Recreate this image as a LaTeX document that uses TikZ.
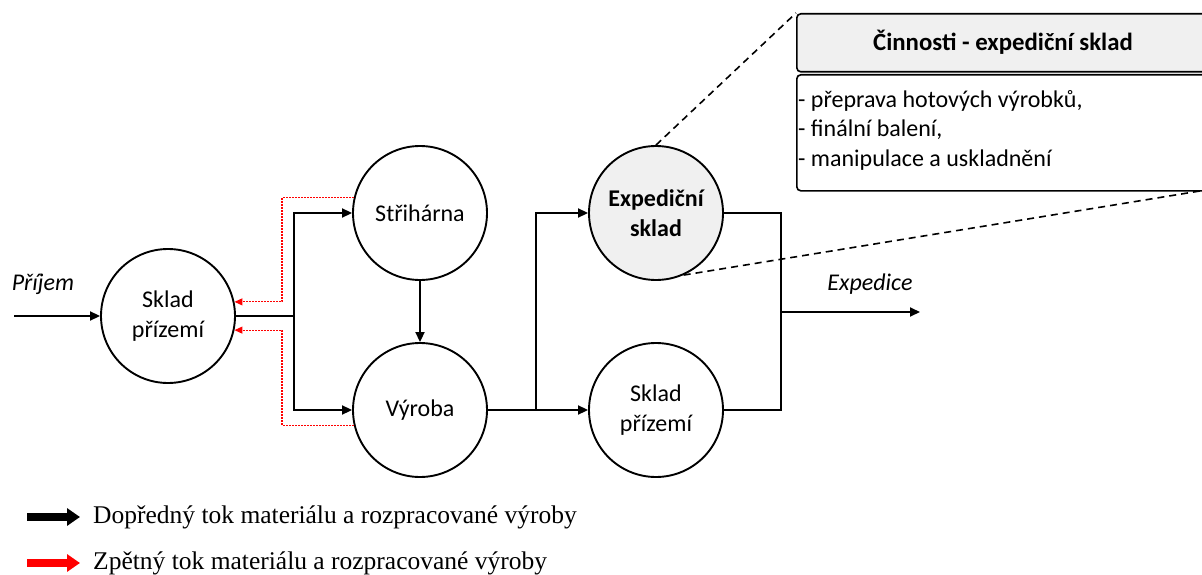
\documentclass[tikz,border=0pt]{standalone}
\usepackage{fontspec}
\setmainfont{Carlito}
\newfontfamily\legendfont{Liberation Serif}
\usetikzlibrary{arrows.meta,calc}

\begin{document}
\begin{tikzpicture}[x=1pt,y=-1pt,
  station/.style={circle, draw, line width=1.9pt, minimum size=134pt, inner sep=0pt,
                  align=center, font=\fontsize{24}{30}\selectfont},
  link/.style={line width=1.9pt},
  flow/.style={link, -{Triangle[length=10pt,width=9pt]}},
  back/.style={red, line width=1.1pt, dash pattern=on 2pt off 1pt,
               -{Triangle[length=8pt,width=7pt]}},
  zoomline/.style={line width=1.6pt, dash pattern=on 7pt off 5pt},
  flowlabel/.style={font=\fontsize{24}{30}\selectfont\itshape},
  panel/.style={draw, line width=1.6pt, rounded corners=4pt, anchor=north west, inner sep=0pt},
  legendtext/.style={anchor=west, inner sep=0pt, font=\legendfont\fontsize{25.5}{30}\selectfont},
]
\useasboundingbox (0,0) rectangle (1202,575);
\clip (0,0) rectangle (1202,575);

% stations
\node[station] (sklad) at (168,316) {Sklad\\přízemí};
\node[station] (stri)  at (420,213) {Střihárna};
\node[station] (vyr)   at (420,410) {Výroba};
\node[station, fill=black!6, font=\fontsize{24}{30}\selectfont\bfseries] (exp) at (656,213) {Expediční\\sklad};
\node[station] (sklad2) at (656,410) {Sklad\\přízemí};

% routing helpers
\coordinate (in)   at (14,316);
\coordinate (jx)   at (294,316);
\coordinate (rx)   at (282,316);
\coordinate (kx)   at (536,410);
\coordinate (mx)   at (781,312);
\coordinate (out)  at (920,312);

% detail panel
\draw[zoomline] (exp.north) -- (796,13);
\draw[zoomline] (exp.-66) -- (1206,190);
\node[panel, fill=black!6, minimum width=410pt, minimum height=58pt] (hdr) at (796,13) {};
\node[font=\fontsize{24.8}{30}\selectfont\bfseries] (hdrtext) at (1003,42) {Činnosti - expediční sklad};
\node[panel, fill=white, minimum width=410pt, minimum height=116pt] (body) at (796,74) {};
\node[anchor=west, align=left, inner sep=0pt, font=\fontsize{24}{29.5}\selectfont] (bodytext) at (798,130)
  {- přeprava hotových výrobků,\\- finální balení,\\- manipulace a uskladnění};

% forward flow
\draw[flow] (in) -- (sklad.west);
\node[flowlabel] (prijem) at (43,284) {Příjem};
\draw[flow] (sklad.east) -| (jx |- stri.west) -- (stri.west);
\draw[flow] (sklad.east) -| (jx |- vyr.west) -- (vyr.west);
\draw[flow] (stri.south) -- (vyr.north);
\draw[flow] (vyr.east) -| (kx |- exp.west) -- (exp.west);
\draw[flow] (vyr.east) -- (sklad2.west);
\draw[link] (exp.east) -| (mx |- sklad2.east) -- (sklad2.east);
\draw[flow] (mx) -- (out);
\node[flowlabel] (expedice) at (870,284) {Expedice};

% backward flow
\draw[back] (stri.167) -- (stri.167 -| rx) -- (rx |- sklad.12) -- (sklad.12);
\draw[back] (vyr.193) -- (vyr.193 -| rx) -- (rx |- sklad.-12) -- (sklad.-12);

% legend
\node[legendtext] (lg1) at (93,517) {Dopředný tok materiálu a rozpracované výroby};
\node[legendtext] (lg2) at (93,563) {Zpětný tok materiálu a rozpracované výroby};
\draw[line width=8pt, -{Triangle[length=13pt,width=17pt]}] ($(lg1.west)+(-66,0)$) -- ($(lg1.west)+(-13,0)$);
\draw[red, line width=8pt, -{Triangle[length=13pt,width=17pt]}] ($(lg2.west)+(-66,0)$) -- ($(lg2.west)+(-13,0)$);
\end{tikzpicture}
\end{document}
